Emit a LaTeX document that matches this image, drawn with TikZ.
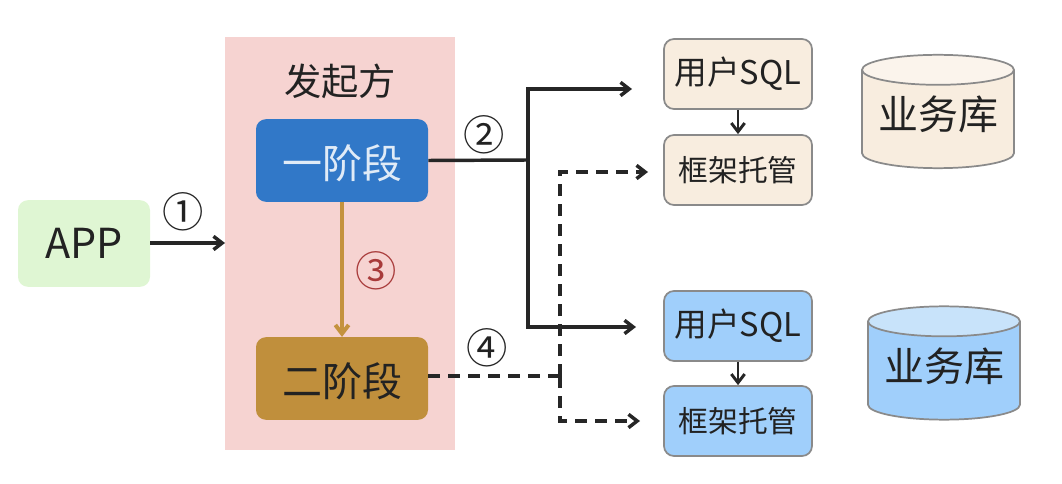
\documentclass[tikz,border=0pt]{standalone}
\usepackage{fontspec}
\setmainfont{Noto Sans CJK SC}
\usetikzlibrary{arrows.meta, shapes.geometric}
\definecolor{framepink}{HTML}{F6D3D1}
\definecolor{appgreen}{HTML}{DFF6D3}
\definecolor{phaseblue}{HTML}{3178C8}
\definecolor{phasetan}{HTML}{C08F3C}
\definecolor{linetan}{HTML}{C4923E}
\definecolor{beige}{HTML}{F8EDDF}
\definecolor{beigetop}{HTML}{FBF4EC}
\definecolor{skyblue}{HTML}{A0CFFB}
\definecolor{skytop}{HTML}{C8E3FA}
\definecolor{edgegray}{HTML}{8A8A8A}
\definecolor{inkgray}{HTML}{222222}
\definecolor{markred}{HTML}{A83A3A}
\tikzset{
>={Straight Barb[length=6.5pt, width=10pt]},
phase/.style={rounded corners=7.5pt, minimum width=129pt, minimum height=62pt, inner sep=0pt, text height=30pt, font=\fontsize{30}{30}\selectfont},
task/.style={draw=edgegray, line width=1.3pt, rounded corners=7.5pt, minimum width=111pt, minimum height=52.5pt, inner sep=0pt, text=inkgray},
sqlbox/.style={task, font=\fontsize{24.5}{25}\selectfont},
hostbox/.style={task, font=\fontsize{22.3}{23}\selectfont},
store/.style={cylinder, shape border rotate=90, aspect=0.25, anchor=shape center, draw=edgegray, line width=1.3pt, cylinder uses custom fill, minimum width=114pt, minimum height=85pt, inner sep=0pt, text=inkgray, text depth=10pt, font=\fontsize{30}{30}\selectfont},
flow/.style={->, line width=2.6pt, draw=black!85},
dashflow/.style={flow, dash pattern=on 9pt off 6pt},
stepmark/.style={inner sep=0pt, text=inkgray, font=\fontsize{31}{31}\selectfont},
}

\begin{document}
\begin{tikzpicture}[x=0.75pt, y=-0.75pt]
\useasboundingbox (0,0) rectangle (1062,484);
\node[fill=framepink, minimum width=172.5pt, minimum height=310pt, inner sep=0pt] at (340,243.5) (frame) {};
\node[text=inkgray, inner sep=0pt, font=\fontsize{28}{28}\selectfont] at (340,81) (title) {发起方};
\node[fill=appgreen, rounded corners=7.5pt, minimum width=99pt, minimum height=65pt, inner sep=0pt, font=\fontsize{31}{31}\selectfont, text=inkgray] at (84,243.5) (app) {APP};
\node[phase, fill=phaseblue, text=white!85!phaseblue] at (342,160.5) (one) {一阶段};
\node[phase, fill=phasetan, text=inkgray] at (342,378.5) (two) {二阶段};

\node[sqlbox, fill=beige] at (738,74) (sqlA) {用户SQL};
\node[hostbox, fill=beige] at (738,170) (hostA) {框架托管};
\node[sqlbox, fill=skyblue] at (738,326) (sqlB) {用户SQL};
\node[hostbox, fill=skyblue] at (738,421) (hostB) {框架托管};
\node[store, cylinder body fill=beige, cylinder end fill=beigetop] at (938,111.5) (dbA) {业务库};
\node[store, cylinder body fill=skyblue, cylinder end fill=skytop] at (944,363) (dbB) {业务库};

% free ends and corners
\coordinate (appEnd) at (225,243);
\coordinate (split) at (528,160);
\coordinate (upCorner) at (528,89);
\coordinate (upEnd) at (632,89);
\coordinate (downCorner) at (528,327);
\coordinate (downEnd) at (636,327);
\coordinate (dashJoin) at (560,376);
\coordinate (dashUp) at (560,172);
\coordinate (dashUpEnd) at (648,172);
\coordinate (dashDown) at (560,421);
\coordinate (dashDownEnd) at (640,421);

\draw[flow] (app.east |- appEnd) -- (appEnd);
\draw[flow, draw=linetan, line width=3pt] (one) -- (two);
\draw[flow, -] (one.east) -- (split);
\draw[flow] (split) -- (upCorner) -- (upEnd);
\draw[flow] (split) -- (downCorner) -- (downEnd);
\draw[dashflow, -] (two.east |- dashJoin) -- (dashJoin);
\draw[dashflow] (dashJoin) -- (dashUp) -- (dashUpEnd);
\draw[dashflow] (dashJoin) -- (dashDown) -- (dashDownEnd);
\draw[flow, line width=2.2pt] (sqlA) -- (hostA);
\draw[flow, line width=2.2pt] (sqlB) -- (hostB);

\node[stepmark] at (183,212) (markOne) {①};
\node[stepmark] at (484,135) (markTwo) {②};
\node[stepmark, text=markred] at (376,271) (markThree) {③};
\node[stepmark] at (487,348) (markFour) {④};
\end{tikzpicture}
\end{document}
